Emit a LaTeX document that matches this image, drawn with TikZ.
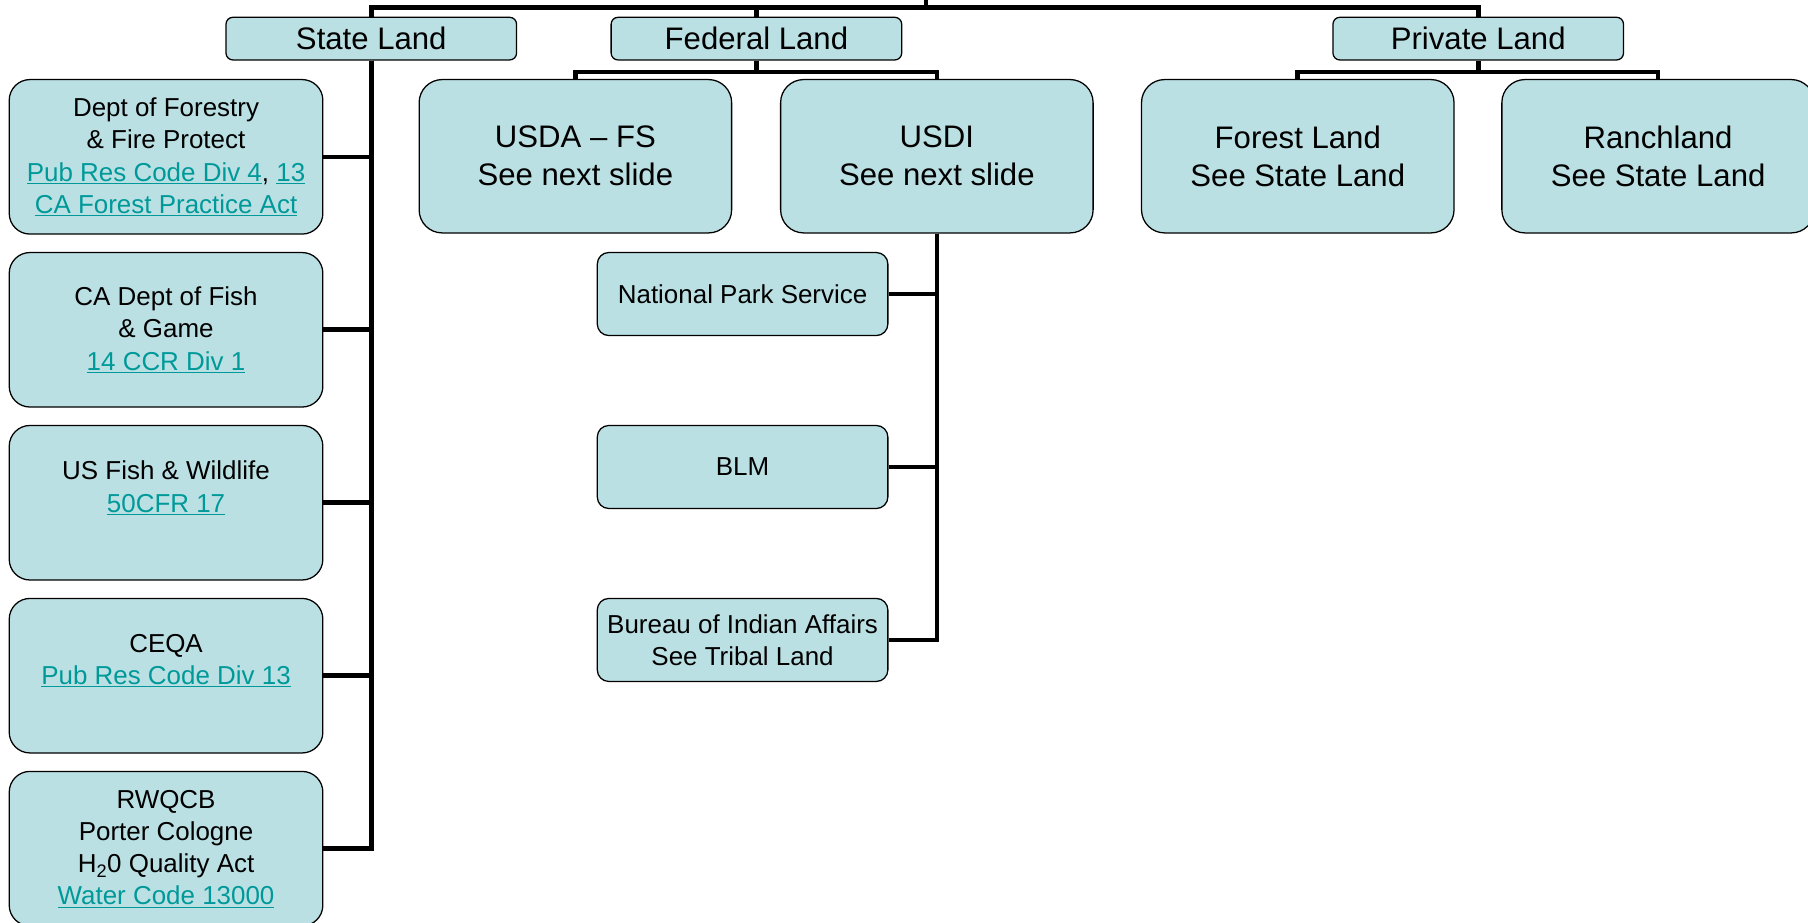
\documentclass[tikz,border=0pt]{standalone}
\usepackage{fontspec}
\setmainfont{Liberation Sans}
\usepackage{xcolor}
\usepackage{tikz}
\usetikzlibrary{calc}
\definecolor{boxfill}{HTML}{BBE0E3}
\definecolor{link}{HTML}{009999}
\newcommand{\lnk}[1]{\textcolor{link}{\underline{#1}}}
\tikzset{
  box/.style={draw=black, fill=boxfill, line width=1.1pt, inner sep=0pt, align=center},
  land/.style={box, rounded corners=6pt, minimum width=252pt, minimum height=37pt, font=\fontsize{27}{33}\selectfont},
  agency/.style={box, rounded corners=20pt, minimum width=271pt, minimum height=133pt, font=\fontsize{27}{33}\selectfont},
  office/.style={box, rounded corners=18pt, minimum width=272pt, minimum height=134pt, font=\fontsize{22.5}{28}\selectfont},
  unit/.style={box, rounded corners=10pt, minimum width=252pt, minimum height=72pt, font=\fontsize{22.5}{28}\selectfont},
  conn/.style={draw=black, line width=4pt, line join=miter}
}
\begin{document}
\begin{tikzpicture}[x=1pt,y=-1pt]
  \useasboundingbox (0,0) rectangle (1568,800);

  % top level
  \node[land] (state)   at (322,33.5)  {State Land};
  \node[land] (federal) at (656,33.5)  {Federal Land};
  \node[land] (private) at (1282,33.5) {Private Land};
  \coordinate (hub)    at (803,6.5);
  \coordinate (rootup) at (803,-10);

  % state land
  \node[office] (dept)  at (144,136) {Dept of Forestry\\ \& Fire Protect\\ \lnk{Pub Res Code Div 4}, \lnk{13}\\ \lnk{CA Forest Practice Act}};
  \node[office] (fish)  at (144,286) {CA Dept of Fish\\ \& Game\\ \lnk{14 CCR Div 1}};
  \node[office] (usfw)  at (144,436) {US Fish \& Wildlife\\ \lnk{50CFR 17}\\ \mbox{}};
  \node[office] (ceqa)  at (144,586) {CEQA\\ \lnk{Pub Res Code Div 13}\\ \mbox{}};
  \node[office] (rwqcb) at (144,736) {RWQCB\\ Porter Cologne\\ H\textsubscript{2}0 Quality Act\\ \lnk{Water Code 13000}};

  % federal land
  \node[agency] (usda) at (499,135.5)   {USDA – FS\\ See next slide};
  \node[agency] (usdi) at (812.5,135.5) {USDI\\ See next slide};
  \node[unit] (nps) at (644,255) {National Park Service};
  \node[unit] (blm) at (644,405) {BLM};
  \node[unit] (bia) at (644,555) {Bureau of Indian Affairs\\ See Tribal Land};

  % private land
  \node[agency] (forest) at (1125.5,135.5) {Forest Land\\ See State Land};
  \node[agency] (ranch)  at (1438,135.5)   {Ranchland\\ See State Land};

  % connectors
  \draw[conn] (rootup) -- (hub);
  \draw[conn] (state.north) |- (hub) -| (private.north);
  \draw[conn] (federal.north) -- (federal.north |- hub);
  \foreach \n in {dept,fish,usfw,ceqa,rwqcb}
    \draw[conn] (state.south) |- (\n.east);
  \draw[conn] (federal.south) -- ++(0,10) -| (usda.north);
  \draw[conn] (federal.south) -- ++(0,10) -| (usdi.north);
  \foreach \n in {nps,blm,bia}
    \draw[conn] (usdi.south) |- (\n.east);
  \draw[conn] (private.south) -- ++(0,10) -| (forest.north);
  \draw[conn] (private.south) -- ++(0,10) -| (ranch.north);
\end{tikzpicture}
\end{document}
